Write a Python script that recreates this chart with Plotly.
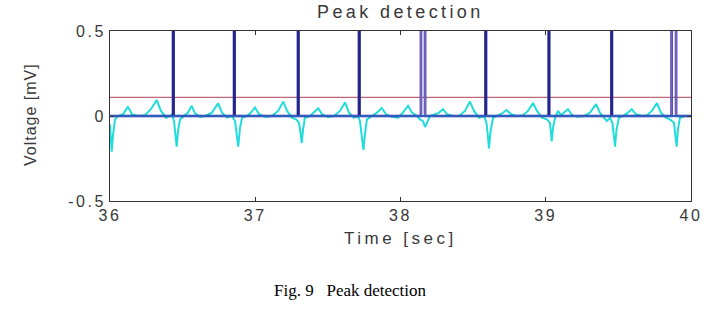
import plotly.graph_objects as go

# ---- data ----
sig_t = [36.000, 36.012, 36.020, 36.034, 36.055, 36.090, 36.124, 36.151, 36.193, 36.241, 36.282, 36.322, 36.351, 36.386, 36.413,
         36.427, 36.441, 36.451, 36.459, 36.468, 36.482, 36.509, 36.537, 36.562, 36.585, 36.620, 36.654, 36.702, 36.744, 36.771, 36.806, 36.840,
         36.861, 36.874, 36.883, 36.895, 36.909, 36.943, 36.971, 36.998, 37.026, 37.074, 37.115, 37.157, 37.193, 37.219, 37.253, 37.281,
         37.301, 37.312, 37.320, 37.329, 37.342, 37.377, 37.405, 37.434, 37.460, 37.501, 37.542, 37.583, 37.618, 37.645, 37.680, 37.707,
         37.721, 37.735, 37.745, 37.756, 37.769, 37.804, 37.838, 37.871, 37.900, 37.941, 37.983, 38.017, 38.052, 38.079, 38.114, 38.134,
         38.155, 38.169, 38.182, 38.203, 38.238, 38.265, 38.293, 38.320, 38.361, 38.403, 38.444, 38.478, 38.506, 38.540, 38.575,
         38.592, 38.602, 38.609, 38.620, 38.637, 38.664, 38.699, 38.731, 38.761, 38.802, 38.843, 38.878, 38.912, 38.940, 38.974, 39.008,
         39.029, 39.036, 39.041, 39.050, 39.064, 39.084, 39.105, 39.126, 39.153, 39.181, 39.222, 39.263, 39.305, 39.346, 39.373, 39.420, 39.442,
         39.459, 39.470, 39.477, 39.487, 39.504, 39.532, 39.559, 39.592, 39.621, 39.662, 39.697, 39.731, 39.766, 39.793, 39.828, 39.855,
         39.883, 39.893, 39.901, 39.910, 39.924, 39.959, 40.000]
sig_v = [-0.05, -0.21, -0.12, -0.02, 0.0, 0.01, 0.055, 0.01, 0.0, 0.005, 0.04, 0.094, 0.03, -0.01, 0.0,
         0.01, -0.03, -0.12, -0.18, -0.09, -0.02, 0.0, 0.02, 0.06, 0.015, -0.005, 0.0, 0.02, 0.075, 0.02, -0.01, 0.0,
         -0.03, -0.12, -0.18, -0.07, -0.01, 0.0, 0.02, 0.05, 0.01, -0.005, 0.0, 0.03, 0.084, 0.03, -0.01, -0.02,
         -0.04, -0.10, -0.16, -0.08, -0.01, 0.0, 0.02, 0.045, 0.01, -0.005, 0.0, 0.03, 0.08, 0.02, -0.01, 0.0,
         -0.03, -0.12, -0.20, -0.10, -0.02, 0.0, 0.02, 0.047, 0.01, -0.005, -0.01, 0.02, 0.06, 0.02, 0.0, -0.02,
         -0.03, -0.065, -0.04, 0.0, 0.01, 0.02, 0.04, 0.01, 0.0, 0.0, 0.03, 0.085, 0.03, -0.01, 0.0,
         -0.04, -0.12, -0.19, -0.09, -0.01, 0.0, 0.015, 0.035, 0.01, 0.0, 0.005, 0.03, 0.076, 0.03, -0.01, -0.02,
         -0.04, -0.10, -0.15, -0.07, -0.01, 0.03, 0.005, 0.02, 0.04, 0.005, -0.005, 0.0, 0.02, 0.07, 0.02, -0.03, -0.01,
         -0.04, -0.12, -0.18, -0.08, -0.01, 0.0, 0.015, 0.04, 0.01, 0.0, 0.005, 0.03, 0.076, 0.02, -0.01, -0.02,
         -0.04, -0.12, -0.18, -0.08, -0.01, 0.0, 0.0]

# detected peaks: rising and falling edge times of the detection pulses
peak_start = [36.434, 36.854, 37.294, 37.714, 38.141, 38.585, 39.020, 39.452, 39.867]
peak_end   = [36.438, 36.858, 37.298, 37.718, 38.169, 38.589, 39.024, 39.456, 39.897]
pulse_height = 0.6
threshold = 0.11

x_range = [36, 40]
y_range = [-0.5, 0.5]
x_ticks = [36, 37, 38, 39, 40]
y_ticks = [-0.5, 0, 0.5]
y_tick_labels = ["-0.5", "0", "0.5"]

# ---- build detection pulse train ----
det_x, det_y = [x_range[0]], [0]
for s, e in zip(peak_start, peak_end):
    det_x += [s, s, e, e]
    det_y += [0, pulse_height, pulse_height, 0]
det_x.append(x_range[1]); det_y.append(0)

def sp(txt, ls):
    return '<span style="letter-spacing:%.1fpx">%s</span>' % (ls, txt)

TXT = "#383838"
SANS = "Arial, Liberation Sans, sans-serif"
fig = go.Figure()
fig.add_trace(go.Scatter(x=sig_t, y=sig_v, mode="lines",
                         line=dict(color="#22dcdc", width=2), hoverinfo="skip"))
fig.add_trace(go.Scatter(x=list(x_range), y=[threshold, threshold], mode="lines",
                         line=dict(color="#b04058", width=1), hoverinfo="skip"))
fig.add_trace(go.Scatter(x=det_x, y=det_y, mode="lines",
                         line=dict(color="#24248e", width=2.6), hoverinfo="skip"))
# double-edged pulses drawn lighter (purple)
for s, e in zip(peak_start, peak_end):
    if e - s > 0.01:
        fig.add_trace(go.Scatter(x=[s, s, e, e], y=[0, pulse_height, pulse_height, 0], mode="lines",
                                 line=dict(color="#6f62c0", width=2), hoverinfo="skip"))
# baseline of the detection signal (appears lighter blue)
fig.add_trace(go.Scatter(x=list(x_range), y=[0, 0], mode="lines",
                         line=dict(color="#2f5cc0", width=1.8), hoverinfo="skip"))

tickfont = dict(family=SANS, size=16, color=TXT)
fig.update_layout(
    width=716, height=320,
    margin=dict(l=110, r=25, t=31, b=119),
    paper_bgcolor="white", plot_bgcolor="white",
    showlegend=False,
    xaxis=dict(range=x_range, tickvals=x_ticks, ticktext=[sp(str(v), 2.5) for v in x_ticks],
               ticks="inside", ticklen=4, tickcolor="#333", showline=True, linecolor="#333",
               linewidth=1, mirror="ticks", showgrid=False, zeroline=False, tickfont=tickfont),
    yaxis=dict(range=y_range, tickvals=y_ticks, ticktext=[sp(t, 2.5) for t in y_tick_labels],
               ticks="inside", ticklen=4, tickcolor="#333", showline=True, linecolor="#333",
               linewidth=1, mirror="ticks", showgrid=False, zeroline=False, tickfont=tickfont),
    annotations=[
        dict(text=sp("Peak detection", 3.4), xref="paper", yref="paper", x=0.5, y=(201 - 12) / 170,
             xanchor="center", yanchor="middle", showarrow=False,
             font=dict(family=SANS, size=18, color=TXT)),
        dict(text=sp("Time [sec]", 3.5), xref="paper", yref="paper", x=0.5, y=(201 - 238) / 170,
             xanchor="center", yanchor="middle", showarrow=False,
             font=dict(family=SANS, size=17, color=TXT)),
        dict(text=sp("Voltage [mV]", 1.0), xref="paper", yref="paper", x=(30 - 110) / 581, y=(201 - 115) / 170,
             xanchor="center", yanchor="middle", showarrow=False, textangle=-90,
             font=dict(family=SANS, size=16, color=TXT)),
        dict(text="Fig. 9\u00a0\u00a0\u00a0Peak detection", xref="paper", yref="paper",
             x=(350 - 110) / 581, y=(201 - 290) / 170,
             xanchor="center", yanchor="middle", showarrow=False,
             font=dict(family="Liberation Serif, Times New Roman, serif", size=17, color="black")),
    ],
)
fig.write_html("out.html")
